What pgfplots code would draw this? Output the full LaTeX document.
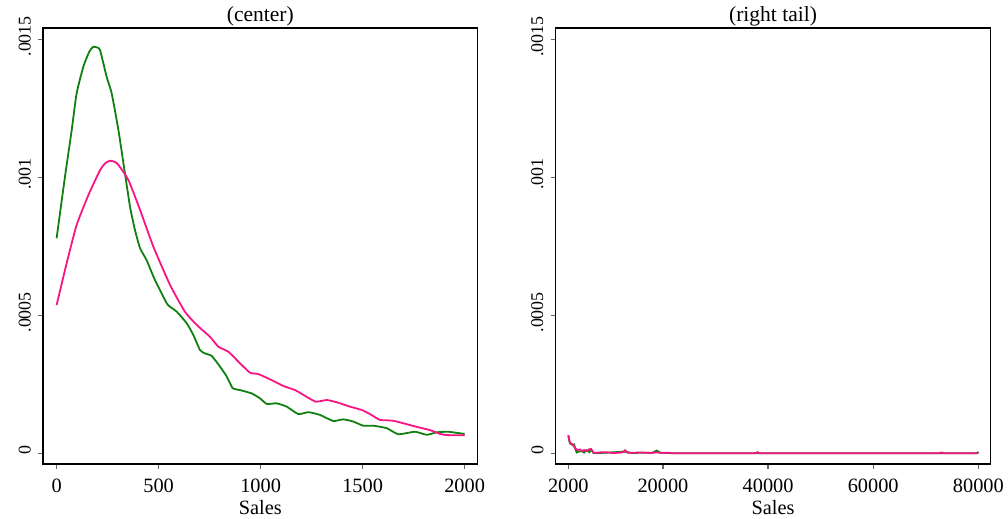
\documentclass[border=0pt]{standalone}
\usepackage{pgfplots}
\pgfplotsset{compat=1.18}
\usepackage{fontspec}
\setmainfont{Liberation Serif}
\definecolor{kgreen}{RGB}{16,128,16}
\definecolor{kpink}{RGB}{250,20,130}

\pgfplotsset{
  panel/.style={
    scale only axis,
    width=217.35bp, height=218bp,
    ymin=-0.0000388, ymax=0.001541,
    ytick={0,0.0005,0.001,0.0015},
    yticklabels={0,.0005,.001,.0015},
    yticklabel style={rotate=90, anchor=south, font=\fontsize{9}{10}\selectfont, xshift=1.5bp},
    xticklabel style={font=\fontsize{10.2}{11}\selectfont, yshift=-1.5bp},
    scaled y ticks=false,
    scaled x ticks=false,
    xticklabel={\pgfmathprintnumber[fixed,precision=0,1000 sep={}]{\tick}},
    tick align=outside,
    xtick pos=left, ytick pos=left,
    major tick length=2.6bp,
    tick style={black!60, line width=0.6bp},
    axis line style={line width=0.7bp},
    xlabel={Sales},
    xlabel style={font=\fontsize{10.2}{11}\selectfont, yshift=3.2bp},
    title style={font=\fontsize{10.8}{12}\selectfont, yshift=-8.5bp},
    every axis plot/.append style={line width=0.9bp},
    /pgf/number format/assume math mode=true,
  }
}

\begin{document}
\begin{tikzpicture}
\useasboundingbox (-21.5bp,-27.5bp) rectangle (482.5bp,232bp);

\begin{axis}[panel, at={(0bp,0bp)}, anchor=south west,
  xmin=-66.7, xmax=2064, xtick={0,500,1000,1500,2000},
  title={(center)}]
\addplot[kgreen, smooth, tension=0.3] coordinates {
(0,0.000779) (41,0.001002) (74,0.001171) (98,0.001304) (131,0.001401)
(160,0.001455) (180,0.001473) (200,0.001470) (213,0.001461) (245,0.001365)
(270,0.001304) (303,0.001171) (335,0.001014) (360,0.000893) (384,0.000809)
(409,0.000743) (441,0.000700) (482,0.000628) (540,0.000543) (556,0.000531)
(589,0.000513) (638,0.000471) (670,0.000429) (703,0.000374) (727,0.000362)
(760,0.000353) (801,0.000314) (834,0.000278) (863,0.000236) (899,0.000229)
(956,0.000217) (997,0.000199) (1030,0.000179) (1079,0.000181) (1128,0.000169)
(1185,0.000142) (1234,0.000149) (1291,0.000139) (1356,0.000117) (1405,0.000123)
(1454,0.000115) (1503,0.000100) (1552,0.000100) (1618,0.000091) (1675,0.000069)
(1757,0.000078) (1814,0.000067) (1863,0.000076) (1920,0.000078) (2000,0.000070)
};
\addplot[kpink, smooth, tension=0.3] coordinates {
(0,0.000537) (49,0.000688) (98,0.000827) (156,0.000936) (213,0.001026)
(240,0.001052) (262,0.001060) (285,0.001056) (303,0.001045) (352,0.000990)
(409,0.000882) (474,0.000749) (556,0.000610) (629,0.000513) (687,0.000465)
(752,0.000422) (793,0.000386) (842,0.000368) (899,0.000326) (948,0.000292)
(989,0.000287) (1046,0.000268) (1111,0.000244) (1169,0.000229) (1218,0.000208)
(1270,0.000187) (1324,0.000193) (1373,0.000185) (1438,0.000169) (1496,0.000157)
(1536,0.000142) (1585,0.000121) (1650,0.000118) (1748,0.000099) (1830,0.000084)
(1880,0.000070) (1912,0.000066) (2000,0.000065)
};
\end{axis}

\begin{axis}[panel, at={(256.35bp,0bp)}, anchor=south west,
  xmin=-403, xmax=82288, xtick={2000,20000,40000,60000,80000},
  title={(right tail)}]
\addplot[kgreen] coordinates {
(2000,0.000062) (2300,0.000036) (2800,0.000030) (3100,0.000032) (3400,0.000012)
(3600,0.000003) (4000,0.000006) (4500,0.000008) (5000,0.000003) (5500,0.000011)
(6000,0.000004) (6300,0.000014) (6800,0.000001) (8000,0.000001) (10000,0.000003)
(12800,0.000006) (14000,0.000001) (16000,0.000002) (18000,0.000002) (18800,0.000010)
(19500,0.000002) (21000,0.000001) (22000,0) (79500,0) (79900,0.000003) (80000,0)
};
\addplot[kpink] coordinates {
(2000,0.000066) (2300,0.000038) (2700,0.000034) (3000,0.000027) (3300,0.000018)
(3700,0.000012) (4200,0.000014) (4600,0.000008) (5000,0.000012) (5400,0.000008)
(5900,0.000014) (6300,0.000016) (6800,0.000002) (7500,0.000002) (8500,0.000004)
(9500,0.000003) (10500,0.000001) (11500,0.000002) (12300,0.000003) (12800,0.000011)
(13300,0.000002) (14500,0.000002) (16000,0.000003) (17500,0.000001) (18800,0.000003)
(20000,0.000001) (21000,0.000002) (22000,0) (37500,0) (38000,0.000004) (38500,0)
(72500,0) (73000,0.000003) (73500,0) (80000,0)
};
\end{axis}
\end{tikzpicture}
\end{document}
